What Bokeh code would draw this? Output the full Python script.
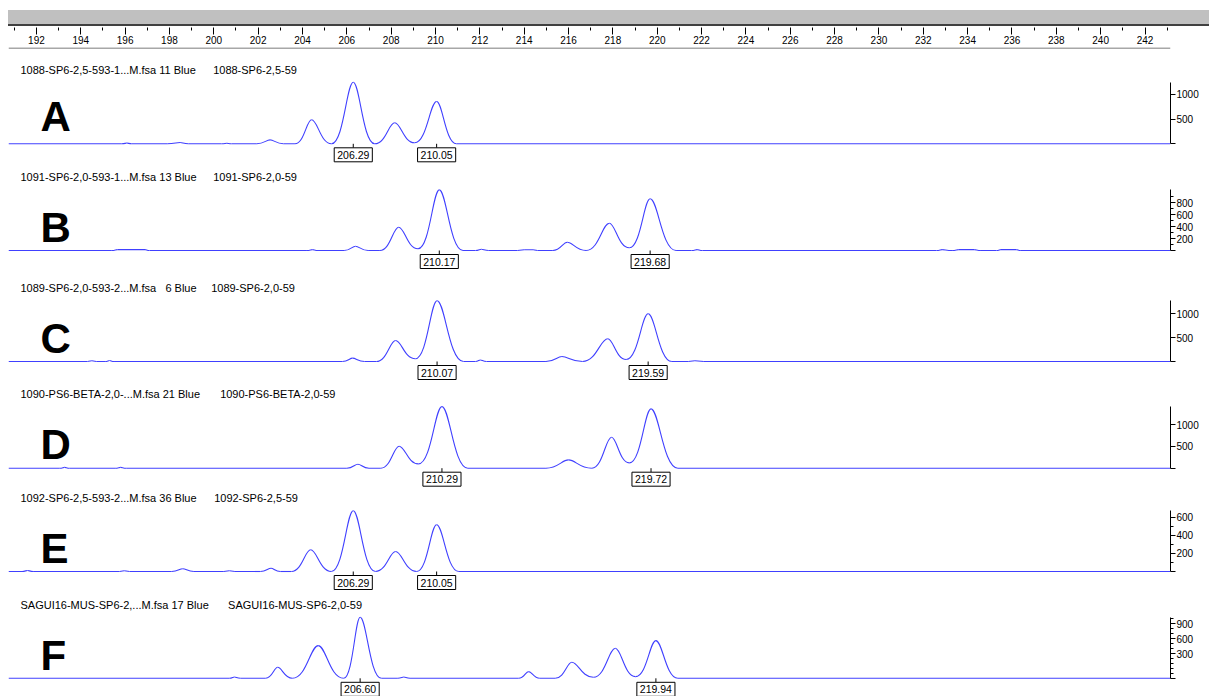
from bokeh.plotting import figure
from bokeh.models import Range1d, LinearAxis, FixedTicker, Label, Span, Div
from bokeh.layouts import column
from bokeh.embed import file_html
from bokeh.resources import INLINE

# ---------------- data ----------------
top_major = list(range(192, 243, 2))
top_minor = list(range(191, 244, 2))

A_x = [190.74, 195.85, 196.08, 196.30, 197.90, 198.48, 198.85, 200.35, 200.59, 200.80, 201.94, 202.54, 203.14,
       203.66, 204.41, 205.31, 206.29, 207.26, 208.16, 209.06, 210.05, 210.94, 243.15]
A_y = [0, 0, 15, 0, 0, 25, 0, 0, 12, 0, 0, 80, 0,
       0, 486, 0, 1245, 0, 425, 20, 856, 0, 0]
A_peaks = [206.29, 210.05]

B_x = [190.74, 195.40, 195.65, 196.90, 197.10, 204.20, 204.45, 204.70, 205.88, 206.39, 206.96, 207.49, 208.34,
       209.21, 210.17, 211.24, 211.80, 212.07, 212.40, 213.70, 214.00, 214.40, 214.60, 215.29, 215.94, 216.79,
       217.84, 218.74, 219.68, 220.85, 221.55, 221.80, 222.05, 232.60, 232.85, 233.30, 233.60, 234.30, 234.60,
       235.30, 235.50, 236.20, 236.40, 243.15]
B_y = [0, 0, 15, 15, 0, 0, 15, 0, 0, 72, 0, 0, 388,
       28, 1010, 0, 0, 22, 0, 0, 12, 12, 0, 0, 138, 0,
       455, 45, 862, 0, 0, 15, 0, 0, 15, 0, 15, 15, 0,
       0, 15, 15, 0, 0]
B_peaks = [210.17, 219.68]

C_x = [190.74, 194.30, 194.50, 194.70, 195.10, 195.30, 195.50, 205.80, 206.26, 206.80, 207.33, 208.20, 209.09,
       210.07, 211.26, 211.80, 212.02, 212.30, 214.98, 215.70, 216.63, 217.77, 218.60, 219.59, 220.66, 221.40,
       221.70, 222.10, 243.15]
C_y = [0, 0, 15, 0, 0, 20, 0, 0, 70, 0, 0, 440, 57,
       1275, 0, 0, 31, 0, 0, 105, 0, 476, 42, 1000, 0, 0,
       15, 0, 0]
C_peaks = [210.07, 219.59]

D_x = [190.74, 193.05, 193.27, 193.50, 195.55, 195.80, 196.05, 206.00, 206.50, 207.00, 207.53, 208.36, 209.23,
       210.29, 211.46, 214.98, 216.00, 217.05, 217.94, 218.74, 219.72, 220.93, 243.15]
D_y = [0, 0, 20, 0, 0, 20, 0, 0, 92, 0, 0, 503, 98,
       1410, 0, 0, 190, 0, 709, 121, 1357, 0, 0]
D_peaks = [210.29, 219.72]

E_x = [190.74, 191.35, 191.60, 191.85, 195.75, 195.96, 196.20, 198.10, 198.60, 199.10, 200.45, 200.70, 200.95,
       202.10, 202.58, 203.00, 203.50, 204.37, 205.30, 206.29, 207.29, 208.20, 209.15, 210.05, 211.05, 243.15]
E_y = [0, 0, 11, 0, 0, 8, 0, 0, 30, 0, 0, 8, 0,
       0, 36, 0, 0, 240, 0, 672, 0, 221, 0, 516, 0, 0]
E_peaks = [206.29, 210.05]

F_x = [190.74, 200.70, 200.93, 201.20, 202.34, 202.88, 203.54, 204.71, 205.86, 206.60, 207.56, 208.30, 208.57,
       208.85, 213.75, 214.20, 214.70, 215.40, 216.15, 217.12, 218.11, 219.02, 219.94, 220.93, 243.15]
F_y = [-190, -190, -164, -190, -190, 30, -190, 464, -190, 1030, -190, -190, -164,
       -190, -190, -56, -190, -190, 130, -170, 410, -156, 564, -190, -190]
F_peaks = [206.60, 219.94]

titles = [
    ("1088-SP6-2,5-593-1...M.fsa 11 Blue", "1088-SP6-2,5-59"),
    ("1091-SP6-2,0-593-1...M.fsa 13 Blue", "1091-SP6-2,0-59"),
    ("1089-SP6-2,0-593-2...M.fsa \u00a0\u00a06 Blue", "1089-SP6-2,0-59"),
    ("1090-PS6-BETA-2,0-...M.fsa 21 Blue", "1090-PS6-BETA-2,0-59"),
    ("1092-SP6-2,5-593-2...M.fsa 36 Blue", "1092-SP6-2,5-59"),
    ("SAGUI16-MUS-SP6-2,...M.fsa 17 Blue", "SAGUI16-MUS-SP6-2,0-59"),
]
letters = ["A", "B", "C", "D", "E", "F"]

axis_major = [[0, 500, 1000], [0, 200, 400, 600, 800], [0, 500, 1000], [0, 500, 1000],
              [0, 200, 400, 600], [-190, 300, 600, 900]]
axis_minor = [[], [100, 300, 500, 700, 900], [], [], [100, 300, 500],
              [-100, 0, 100, 200, 400, 500, 700, 800, 1000]]

# ---------------- layout / style ----------------
FONT = "Liberation Sans"
BLUE = "#4040ff"
LEFT, FRAME_W, RIGHT = 8, 1164, 29
W = LEFT + FRAME_W + RIGHT
X0, X1 = 190.74, 243.15
PXBP = FRAME_W / (X1 - X0)

def xpx(px):
    return X0 + (px - LEFT) / PXBP

band = Div(text='<div style="width:1209px;height:26px;padding:10px 0 0 8px;box-sizing:border-box;margin:0;">'
                '<div style="width:1201px;height:16px;box-sizing:border-box;background:#c0c0c0;'
                'border-bottom:2px solid #404040;margin:0;"></div></div>',
           width=1209, height=26, margin=(0, 0, 0, 0))

ruler = figure(width=W, height=21, x_range=Range1d(X0, X1), y_range=Range1d(0, 1),
               toolbar_location=None, output_backend="svg", y_axis_type=None,
               min_border_left=LEFT, min_border_right=RIGHT, min_border_top=0, min_border_bottom=20)
ruler.outline_line_color = None
ruler.grid.visible = False
ax = ruler.xaxis[0]
ax.ticker = FixedTicker(ticks=top_major, minor_ticks=top_minor)
ax.axis_line_color = None
ax.major_tick_out = 7
ax.major_tick_in = 0
ax.minor_tick_out = 3
ax.minor_tick_in = 0
ax.major_tick_line_color = "black"
ax.minor_tick_line_color = "black"
ax.major_label_text_font = FONT
ax.major_label_text_font_size = "10px"
ax.major_label_text_color = "black"
ax.major_label_standoff = 1

# panel geometry: (top, height, zero pixel, px per unit, header y, second title x, letter centre y)
geo = [
    (47, 123, 143.3, 0.0494, 69.3, 213, 115.5),
    (170, 107, 250.0, 0.0600, 176.0, 213, 226.5),
    (277, 109, 361.0, 0.0477, 287.3, 211, 337.5),
    (386, 106, 467.7, 0.0437, 393.3, 220, 443.5),
    (492, 105, 571.0, 0.0905, 497.3, 214, 547.5),
    (597, 99, 668.3, 0.0500, 604.0, 228, 654.5),
]
data = [(A_x, A_y, A_peaks), (B_x, B_y, B_peaks), (C_x, C_y, C_peaks),
        (D_x, D_y, D_peaks), (E_x, E_y, E_peaks), (F_x, F_y, F_peaks)]

figs = [band, ruler]
K_FOOT, K_APEX = 0.55, 0.30
for i, ((xs, ys, peaks), g) in enumerate(zip(data, geo)):
    t, h, zero, s, hy, x2, lc = g
    yend = (zero - t) / s
    ystart = -(t + h - zero) / s
    p = figure(width=W, height=h, x_range=Range1d(X0, X1), y_range=Range1d(ystart, yend),
               toolbar_location=None, output_backend="svg", x_axis_type=None, y_axis_type=None,
               min_border_left=LEFT, min_border_right=RIGHT, min_border_top=0, min_border_bottom=0)
    p.outline_line_color = None

    def Y(py, zero=zero, s=s):
        return (zero - py) / s
    base = ys[0]
    # trace: smooth segments between the knots
    x0s, x1s, y0s, y1s, c0x, c1x = [], [], [], [], [], []
    for j in range(len(xs) - 1):
        xa, xb, ya, yb = xs[j], xs[j + 1], ys[j], ys[j + 1]
        d = xb - xa
        ka, kb = (K_FOOT, K_APEX) if ya <= yb else (K_APEX, K_FOOT)
        x0s.append(xa); x1s.append(xb); y0s.append(ya); y1s.append(yb)
        c0x.append(xa + ka * d); c1x.append(xb - kb * d)
    p.bezier(x0=x0s, y0=y0s, x1=x1s, y1=y1s, cx0=c0x, cy0=y0s, cx1=c1x, cy1=y1s,
             line_color=BLUE, line_width=1.1)
    # peak size labels
    p.segment(x0=peaks, y0=[base] * len(peaks), x1=peaks, y1=[base - 4 / s] * len(peaks),
              line_color="black", line_width=1)
    p.text(x=peaks, y=[base] * len(peaks), text=["%.2f" % v for v in peaks],
           text_align="center", text_baseline="top", y_offset=4,
           text_font={"value": FONT}, text_font_size={"value": "10.5px"}, text_color="black",
           border_line_color="black", border_line_width=1, background_fill_color="white", padding=3)
    # headers and panel letter
    p.add_layout(Label(x=xpx(20), y=Y(hy), text=titles[i][0], text_baseline="middle",
                       text_font=FONT, text_font_size="11px", text_color="black"))
    p.add_layout(Label(x=xpx(x2), y=Y(hy), text=titles[i][1], text_baseline="middle",
                       text_font=FONT, text_font_size="11px", text_color="black"))
    p.add_layout(Label(x=xpx(40), y=Y(lc), text=letters[i], text_baseline="middle",
                       text_font=FONT, text_font_size="42px", text_font_style="bold",
                       text_color="black"))
    if i == 0:
        p.add_layout(Span(location=Y(47.5), dimension="width", line_color="#505050", line_width=1))
    # right intensity axis
    maj = axis_major[i]
    yax = LinearAxis(bounds=(maj[0], max(ys)),
                     ticker=FixedTicker(ticks=maj, minor_ticks=axis_minor[i]))
    yax.major_label_overrides = {maj[0]: ""}
    yax.major_tick_out = 5
    yax.major_tick_in = 0
    yax.minor_tick_out = 3
    yax.minor_tick_in = 0
    yax.major_label_standoff = 1
    yax.major_label_text_font = FONT
    yax.major_label_text_font_size = "10px"
    yax.major_label_text_color = "black"
    yax.axis_line_color = "black"
    p.add_layout(yax, "right")
    figs.append(p)

layout = column(*figs, spacing=0)
open("out.html", "w").write(file_html(layout, INLINE))
